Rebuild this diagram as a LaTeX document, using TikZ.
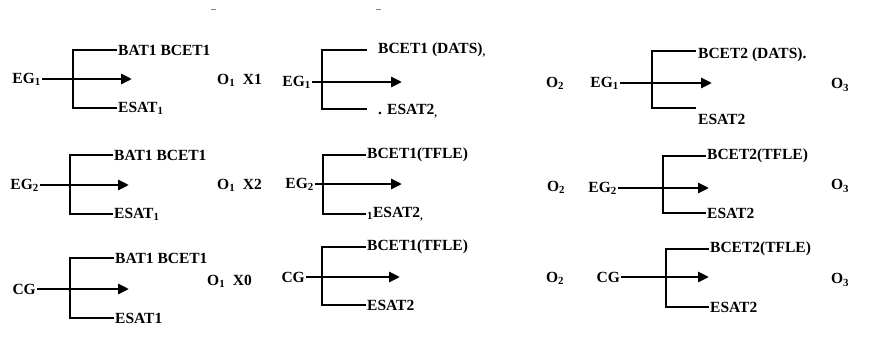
\documentclass[tikz,border=0pt]{standalone}
\usepackage{fontspec}
\setmainfont{Liberation Serif}
\usetikzlibrary{arrows.meta}

\begin{document}
\begin{tikzpicture}[x=1pt,y=-1pt,
    lbl/.style={inner sep=1pt,font=\fontsize{15.5}{18}\selectfont\bfseries},
    arr/.style={-{Triangle[length=11pt,width=10pt]},line width=2.7pt},
    brk/.style={line width=2.7pt}]
  \useasboundingbox (0,0) rectangle (872,345);
  \draw[gray,line width=1pt] (211,10) -- (216,10) (376,10) -- (381,10);

  % row 1
  \node[lbl,anchor=east] (g11) at (42,79) {EG\textsubscript{1}};
  \coordinate (a11) at (132,79);
  \coordinate (v11) at (73,79);
  \node[lbl,anchor=west] (t11) at (117,50) {BAT1 BCET1};
  \node[lbl,anchor=west] (b11) at (117,108) {ESAT\textsubscript{1}};
  \node[lbl,anchor=west] (o11) at (216,80) {O\textsubscript{1}\ \ X1};
  \draw[arr] (g11.east) -- (a11);
  \draw[brk] (t11.west) -| (v11) |- (b11.west);

  \node[lbl,anchor=east] (g12) at (312,82) {EG\textsubscript{1}};
  \coordinate (a12) at (402,82);
  \coordinate (v12) at (322,82);
  \node[lbl,anchor=west] (t12) at (377,50) {BCET1 (DATS)\textsubscript{,}};
  \node[lbl,anchor=west] (b12) at (377,111) {. ESAT2\textsubscript{,}};
  \node[lbl] (o12) at (555,83) {O\textsubscript{2}};
  \draw[arr] (g12.east) -- (a12);
  \draw[brk] ([xshift=-10pt]t12.west) -| (v12) |- ([shift={(-10,-2)}]b12.west);

  \node[lbl,anchor=east] (g13) at (620,83) {EG\textsubscript{1}};
  \coordinate (a13) at (712,83);
  \coordinate (v13) at (652,83);
  \node[lbl,anchor=west] (t13) at (697,55) {BCET2 (DATS).};
  \node[lbl,anchor=west] (b13) at (697,119) {ESAT2};
  \node[lbl] (o13) at (840,85) {O\textsubscript{3}};
  \draw[arr] (g13.east) -- (a13);
  \draw[brk] ([shift={(-1,-4)}]t13.west) -| (v13) |- ([shift={(-1,-11)}]b13.west);

  % row 2
  \node[lbl,anchor=east] (g21) at (40,185) {EG\textsubscript{2}};
  \coordinate (a21) at (129,185);
  \coordinate (v21) at (70,185);
  \node[lbl,anchor=west] (t21) at (113,155) {BAT1 BCET1};
  \node[lbl,anchor=west] (b21) at (113,214) {ESAT\textsubscript{1}};
  \node[lbl,anchor=west] (o21) at (216,185) {O\textsubscript{1}\ \ X2};
  \draw[arr] (g21.east) -- (a21);
  \draw[brk] (t21.west) -| (v21) |- (b21.west);

  \node[lbl,anchor=east] (g22) at (315,184) {EG\textsubscript{2}};
  \coordinate (a22) at (402,184);
  \coordinate (v22) at (323,184);
  \node[lbl,anchor=west] (t22) at (366,155) {BCET1(TFLE)};
  \node[lbl,anchor=west] (b22) at (366,214) {\textsubscript{1}ESAT2\textsubscript{,}};
  \node[lbl] (o22) at (556,187) {O\textsubscript{2}};
  \draw[arr] (g22.east) -- (a22);
  \draw[brk] (t22.west) -| (v22) |- (b22.west);

  \node[lbl,anchor=east] (g23) at (618,188) {EG\textsubscript{2}};
  \coordinate (a23) at (709,188);
  \coordinate (v23) at (663,188);
  \node[lbl,anchor=west] (t23) at (706,156) {BCET2(TFLE)};
  \node[lbl,anchor=west] (b23) at (706,213) {ESAT2};
  \node[lbl] (o23) at (840,186) {O\textsubscript{3}};
  \draw[arr] (g23.east) -- (a23);
  \draw[brk] (t23.west) -| (v23) |- (b23.west);

  % row 3
  \node[lbl,anchor=east] (g31) at (37,289) {CG};
  \coordinate (a31) at (129,289);
  \coordinate (v31) at (70,289);
  \node[lbl,anchor=west] (t31) at (114,258) {BAT1 BCET1};
  \node[lbl,anchor=west] (b31) at (114,318) {ESAT1};
  \node[lbl,anchor=west] (o31) at (206,281) {O\textsubscript{1}\ \ X0};
  \draw[arr] (g31.east) -- (a31);
  \draw[brk] (t31.west) -| (v31) |- (b31.west);

  \node[lbl,anchor=east] (g32) at (306,277) {CG};
  \coordinate (a32) at (400,277);
  \coordinate (v32) at (322,277);
  \node[lbl,anchor=west] (t32) at (366,247) {BCET1(TFLE)};
  \node[lbl,anchor=west] (b32) at (366,305) {ESAT2};
  \node[lbl] (o32) at (555,278) {O\textsubscript{2}};
  \draw[arr] (g32.east) -- (a32);
  \draw[brk] (t32.west) -| (v32) |- (b32.west);

  \node[lbl,anchor=east] (g33) at (621,277) {CG};
  \coordinate (a33) at (709,277);
  \coordinate (v33) at (666,277);
  \node[lbl,anchor=west] (t33) at (709,249) {BCET2(TFLE)};
  \node[lbl,anchor=west] (b33) at (709,307) {ESAT2};
  \node[lbl] (o33) at (840,280) {O\textsubscript{3}};
  \draw[arr] (g33.east) -- (a33);
  \draw[brk] (t33.west) -| (v33) |- (b33.west);
\end{tikzpicture}
\end{document}
